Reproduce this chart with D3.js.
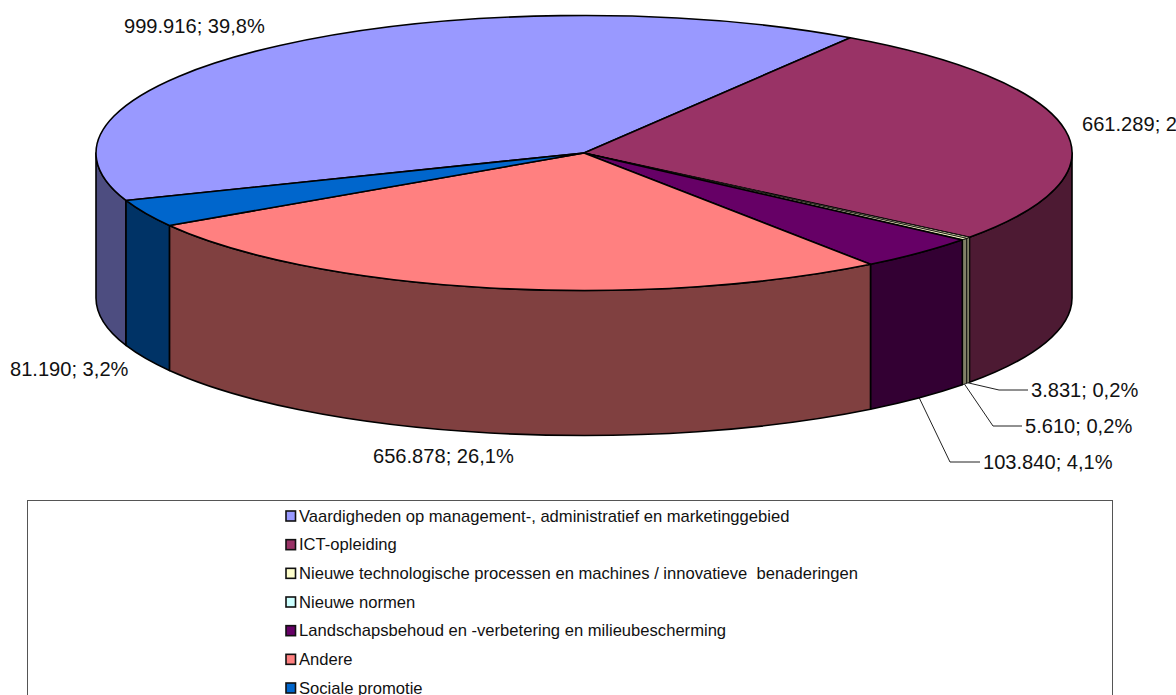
<!DOCTYPE html>
<html>
<head>
<meta charset="utf-8">
<script src="https://cdnjs.cloudflare.com/ajax/libs/d3/7.8.5/d3.min.js"></script>
<style>
  html, body { margin: 0; padding: 0; background: white; overflow: hidden; }
  svg { display: block; }
  text { font-family: "Liberation Sans", Arial, sans-serif; fill: #111; }
</style>
</head>
<body>
<svg id="chart" width="1176" height="695"></svg>
<script>
const categories = [
  "Vaardigheden op management-, administratief en marketinggebied",
  "ICT-opleiding",
  "Nieuwe technologische processen en machines / innovatieve  benaderingen",
  "Nieuwe normen",
  "Landschapsbehoud en -verbetering en milieubescherming",
  "Andere",
  "Sociale promotie"
]
const values = [999916, 661289, 3831, 5610, 103840, 656878, 81190]
const legendColours = ["#9999ff", "#993366", "#ffffcc", "#ccffff", "#660066", "#ff8080", "#0066cc"]
// the two thinnest slices read as one pale strip in the picture
const topColours = ["#9999ff", "#993366", "#ffffcc", "#ffffcc", "#660066", "#ff8080", "#0066cc"]
const sideColours = ["#4d4d80", "#4d1a33", "#808066", "#808066", "#330033", "#804040", "#003366"]

// where each value label sits, same order as categories
const labelX = [124, 1082, 1031, 1025, 983, 373, 10]
const labelY = [26, 124, 390, 426, 462, 456, 369]
const elbowX = [null, null, 999, 993, 950, null, null]

const cx = 584, cy = 153, rx = 488, ry = 137.5, depth = 145
const firstAngle = 249.8 * Math.PI / 180

const svg = d3.select("#chart")
const dutch = d3.formatLocale({decimal: ",", thousands: ".", grouping: [3], currency: ["€", ""]})
const fmtValue = dutch.format(",d")
const fmtPct = dutch.format(".1f")
const total = d3.sum(values)

const pie = d3.pie().sort(null).startAngle(firstAngle).endAngle(firstAngle + 2 * Math.PI)
const slices = pie(values)

// angle runs clockwise from the top of the ellipse
function rim(angle, drop) {
  return [cx + rx * Math.sin(angle), cy - ry * Math.cos(angle) + (drop || 0)]
}

function topPath(d) {
  let a = rim(d.startAngle), b = rim(d.endAngle)
  let large = d.endAngle - d.startAngle > Math.PI ? 1 : 0
  return `M${cx},${cy}L${a}A${rx},${ry} 0 ${large} 1 ${b}Z`
}

// only the front half of the cylinder is visible
function sidePaths(d) {
  let out = []
  for (let k = 0; k < 2; k++) {
    let lo = Math.max(d.startAngle, Math.PI / 2 + k * 2 * Math.PI)
    let hi = Math.min(d.endAngle, 3 * Math.PI / 2 + k * 2 * Math.PI)
    if (hi > lo) {
      out.push(`M${rim(lo)}A${rx},${ry} 0 0 1 ${rim(hi)}L${rim(hi, depth)}A${rx},${ry} 0 0 0 ${rim(lo, depth)}Z`)
    }
  }
  return out
}

let sides = []
slices.forEach(function(d, i) {
  sidePaths(d).forEach(function(p) {
    sides.push({path: p, index: i})
  })
})

// thin slices get a lighter line, otherwise they turn black
function edgeWidth(i) {
  return i == 2 || i == 3 ? 0.8 : 1.6
}

svg.selectAll(".side")
   .data(sides)
   .enter()
   .append("path")
   .attr("class", "side")
   .attr("d", d => d.path)
   .attr("fill", d => sideColours[d.index])
   .attr("stroke", "#000")
   .attr("stroke-width", d => edgeWidth(d.index))
   .attr("stroke-linejoin", "round")

svg.selectAll(".top")
   .data(slices)
   .enter()
   .append("path")
   .attr("class", "top")
   .attr("d", topPath)
   .attr("fill", (d, i) => topColours[i])
   .attr("stroke", "#000")
   .attr("stroke-width", (d, i) => edgeWidth(i))
   .attr("stroke-linejoin", "round")

// leader lines for the thin slices
svg.selectAll(".leader")
   .data(slices.filter((d, i) => elbowX[i] !== null))
   .enter()
   .append("path")
   .attr("class", "leader")
   .attr("d", function(d) {
     let mid = (d.startAngle + d.endAngle) / 2
     let start = rim(mid, depth)
     return `M${start}L${elbowX[d.index]},${labelY[d.index]}L${labelX[d.index] - 3},${labelY[d.index]}`
   })
   .attr("fill", "none")
   .attr("stroke", "#222")
   .attr("stroke-width", 1)

svg.selectAll(".value")
   .data(slices)
   .enter()
   .append("text")
   .attr("class", "value")
   .attr("x", d => labelX[d.index])
   .attr("y", d => labelY[d.index])
   .attr("dominant-baseline", "central")
   .attr("font-size", 20.1)
   .text(d => fmtValue(d.data) + "; " + fmtPct(d.data / total * 100) + "%")

// legend, its bottom edge falls outside the picture
svg.append("rect")
   .attr("x", 27.5)
   .attr("y", 500.5)
   .attr("width", 1085)
   .attr("height", 230)
   .attr("fill", "white")
   .attr("stroke", "#555")
   .attr("stroke-width", 1)

const legendY = d3.scalePoint().domain(categories).range([516, 688])

let rows = svg.selectAll(".row")
              .data(categories)
              .enter()
              .append("g")
              .attr("class", "row")
              .attr("transform", d => `translate(0,${legendY(d)})`)

rows.append("rect")
    .attr("x", 286)
    .attr("y", -5)
    .attr("width", 9.5)
    .attr("height", 10)
    .attr("fill", (d, i) => legendColours[i])
    .attr("stroke", "#111")
    .attr("stroke-width", 1.6)

rows.append("text")
    .attr("x", 299)
    .attr("y", 0)
    .attr("dominant-baseline", "central")
    .attr("font-size", 16.6)
    .style("white-space", "pre")
    .text(d => d)
</script>
</body>
</html>
